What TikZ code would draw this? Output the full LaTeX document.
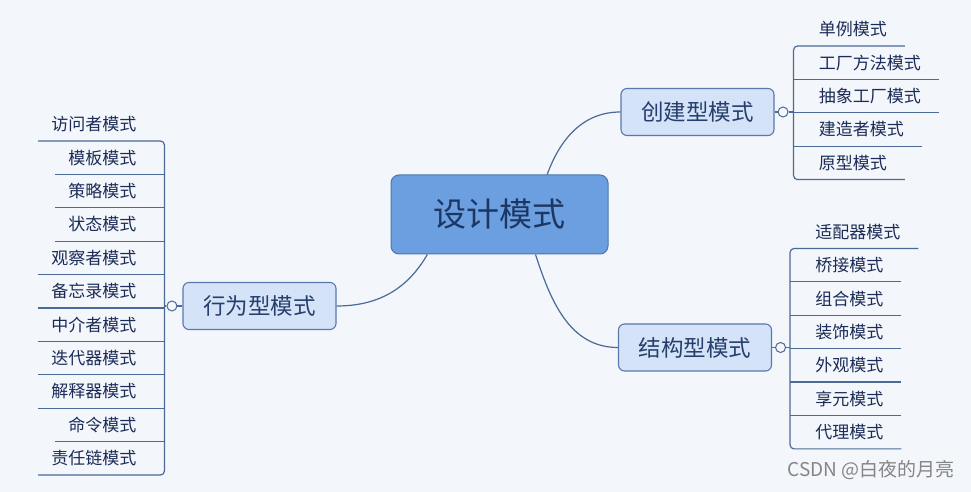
\documentclass[tikz,border=0pt]{standalone}
\usepackage{fontspec}
\setmainfont{Noto Sans CJK SC}
\usepackage{xcolor}
\usetikzlibrary{calc,positioning}
\definecolor{bgCol}{HTML}{F3F6FA}
\definecolor{rootFill}{HTML}{6C9FDF}
\definecolor{rootLine}{HTML}{4B76B3}
\definecolor{rootText}{HTML}{1D3765}
\definecolor{subFill}{HTML}{D4E3F8}
\definecolor{subLine}{HTML}{5978AB}
\definecolor{subText}{HTML}{263E6C}
\definecolor{branchCol}{HTML}{4C6A98}
\definecolor{leafText}{HTML}{1C2C58}
\definecolor{markGray}{HTML}{858585}
\def\rowGap{33pt}

\begin{document}
\begin{tikzpicture}[x=1pt,y=1pt]
      \tikzstyle{every node} = [text=leafText]
      \tikzstyle{rootbox} = [draw=rootLine, fill=rootFill, rounded corners=8pt, line width=1pt, minimum width=217pt, minimum height=79pt, inner sep=0pt, text=rootText, font=\fontsize{33pt}{38pt}\selectfont]
      \tikzstyle{groupbox} = [draw=subLine, fill=subFill, rounded corners=6pt, line width=1.1pt, minimum width=153pt, minimum height=47pt, inner sep=0pt, text=subText, font=\fontsize{22.5pt}{26pt}\selectfont]
      \tikzstyle{knobdot} = [draw=branchCol, fill=bgCol, circle, line width=1pt, minimum size=10pt, inner sep=0pt]
      \tikzstyle{leafbox} = [minimum height=\rowGap, inner ysep=0pt, font=\fontsize{17pt}{20pt}\selectfont]
      \tikzstyle{leafR} = [leafbox, inner xsep=18pt, anchor=north west]
      \tikzstyle{leafL} = [leafbox, inner xsep=13pt, anchor=north east]
      \tikzstyle{branchline} = [draw=branchCol, line width=1.2pt]
      % Background
      \fill[bgCol] (0,0) rectangle (971,492);
      % Main nodes
      \node[rootbox](design) at (499.5,277.5){设计模式};
      \node[groupbox](creational) at (697.5,380){创建型模式};
      \node[groupbox](structural) at (695,144.5){结构型模式};
      \node[groupbox](behavioral) at (259.5,186){行为型模式};
      \node[knobdot, right=3pt of creational](cKnob){};
      \node[knobdot, right=3pt of structural](sKnob){};
      \node[knobdot, left=5pt of behavioral](bKnob){};
      \coordinate[right=5pt of cKnob](cBar);
      \coordinate[right=4pt of sKnob](sBar);
      \coordinate[left=2pt of bKnob](bBar);
      % Creational leaves
      \node[leafR, anchor=south west](singleton) at ($(cBar)+(7pt,2*\rowGap)$){单例模式};
      \node[leafR](factory) at (singleton.south west){工厂方法模式};
      \node[leafR](abstract) at (factory.south west){抽象工厂模式};
      \node[leafR](builder) at (abstract.south west){建造者模式};
      \node[leafR](prototype) at (builder.south west){原型模式};
      % Structural leaves
      \node[leafR, anchor=south west](adapter) at ($(sBar)+(7pt,3*\rowGap)$){适配器模式};
      \node[leafR](bridge) at (adapter.south west){桥接模式};
      \node[leafR](composite) at (bridge.south west){组合模式};
      \node[leafR](decorator) at (composite.south west){装饰模式};
      \node[leafR](facade) at (decorator.south west){外观模式};
      \node[leafR](flyweight) at (facade.south west){享元模式};
      \node[leafR](proxy) at (flyweight.south west){代理模式};
      % Behavioral leaves
      \node[leafL, anchor=south east](visitor) at ($(bBar)+(-15pt,5*\rowGap)$){访问者模式};
      \node[leafL](template) at (visitor.south east){模板模式};
      \node[leafL](strategy) at (template.south east){策略模式};
      \node[leafL](state) at (strategy.south east){状态模式};
      \node[leafL](observer) at (state.south east){观察者模式};
      \node[leafL](memento) at (observer.south east){备忘录模式};
      \node[leafL](mediator) at (memento.south east){中介者模式};
      \node[leafL](iterator) at (mediator.south east){迭代器模式};
      \node[leafL](interpreter) at (iterator.south east){解释器模式};
      \node[leafL](command) at (interpreter.south east){命令模式};
      \node[leafL](chain) at (command.south east){责任链模式};
      % Connections
      \draw[branchline] (design.40) to[out=70,in=180] (creational.west);
      \draw[branchline] (design.-48) to[out=-72,in=180] (structural.west);
      \draw[branchline] (design.-151) to[out=-120,in=0] (behavioral.east);
      \draw[branchline] (creational.east) -- (cKnob.west);
      \draw[branchline] (cKnob.east) -- (cBar);
      \draw[branchline] (structural.east) -- (sKnob.west);
      \draw[branchline] (sKnob.east) -- (sBar);
      \draw[branchline] (behavioral.west) -- (bKnob.east);
      \draw[branchline] (bKnob.west) -- (bBar);
      % Brackets
      \draw[branchline, rounded corners=4pt] (singleton.south east) -| (prototype.south -| cBar) -- (prototype.south east);
      \draw[branchline] (factory.south east) -- (factory.south -| cBar);
      \draw[branchline] (abstract.south east) -- (abstract.south -| cBar);
      \draw[branchline] (builder.south east) -- (builder.south -| cBar);
      \draw[branchline, rounded corners=4pt] (adapter.south east) -| (proxy.south -| sBar) -- (proxy.south east);
      \draw[branchline] (bridge.south east) -- (bridge.south -| sBar);
      \draw[branchline] (composite.south east) -- (composite.south -| sBar);
      \draw[branchline] (decorator.south east) -- (decorator.south -| sBar);
      \draw[branchline] (facade.south east) -- (facade.south -| sBar);
      \draw[branchline] (flyweight.south east) -- (flyweight.south -| sBar);
      \draw[branchline, rounded corners=4pt] (visitor.south west) -| (chain.south -| bBar) -- (chain.south west);
      \draw[branchline] (template.south west) -- (template.south -| bBar);
      \draw[branchline] (strategy.south west) -- (strategy.south -| bBar);
      \draw[branchline] (state.south west) -- (state.south -| bBar);
      \draw[branchline] (observer.south west) -- (observer.south -| bBar);
      \draw[branchline] (memento.south west) -- (memento.south -| bBar);
      \draw[branchline] (mediator.south west) -- (mediator.south -| bBar);
      \draw[branchline] (iterator.south west) -- (iterator.south -| bBar);
      \draw[branchline] (interpreter.south west) -- (interpreter.south -| bBar);
      \draw[branchline] (command.south west) -- (command.south -| bBar);
      % Watermark
      \node[anchor=east, text=markGray, font=\fontsize{19pt}{22pt}\selectfont](mark) at (958,22){CSDN @白夜的月亮};
\end{tikzpicture}
\end{document}
